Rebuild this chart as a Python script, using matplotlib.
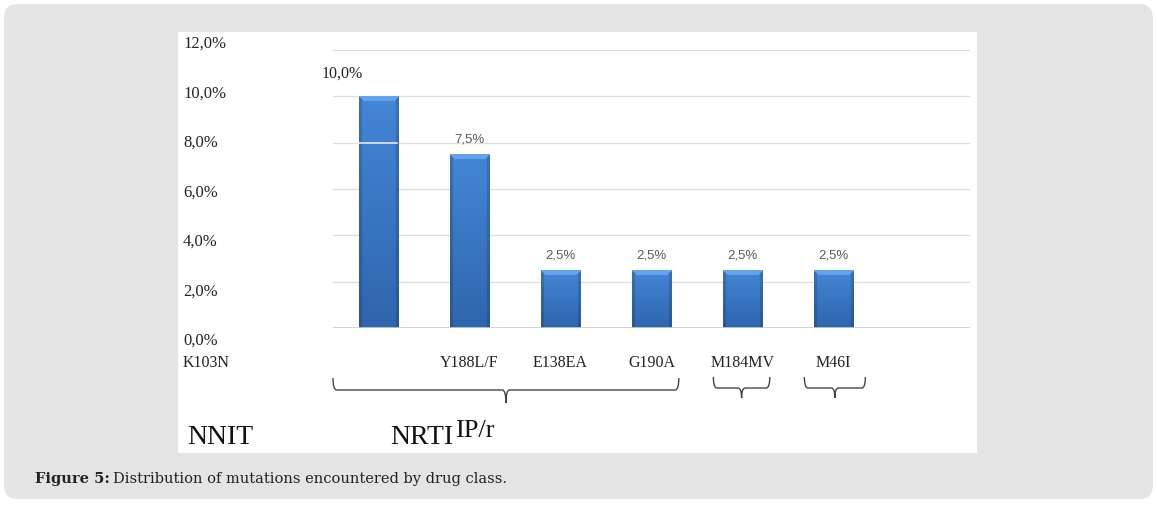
import numpy as np
import matplotlib.pyplot as plt
from matplotlib.patches import FancyBboxPatch, Rectangle, PathPatch
from matplotlib.path import Path
from matplotlib.colors import to_rgb
import matplotlib.transforms as mtransforms

# data
mutations = ['K103N', 'Y188L/F', 'E138EA', 'G190A', 'M184MV', 'M46I']
values = [10.0, 7.5, 2.5, 2.5, 2.5, 2.5]
yticks = [0, 2, 4, 6, 8, 10, 12]
ytick_labels = ['0,0%', '2,0%', '4,0%', '6,0%', '8,0%', '10,0%', '12,0%']
# drug class groups: (label, brace start, brace end) in category units
groups = [('NNIT', None, None), ('NRTI', -0.5, 3.3), ('IP/r', 3.68, 4.30), ('', 4.68, 5.35)]

W, H = 1157, 505
fig = plt.figure(figsize=(W / 100, H / 100), dpi=100)
fig.patch.set_facecolor('white')

def fx(px):
    return px / W

def fy(py):
    return 1 - py / H

# gray frame and white panel (behind the axes)
fig.patches.append(FancyBboxPatch((fx(4), fy(499)), fx(1149), (495) / H,
                                  boxstyle='round,pad=0,rounding_size=0.012',
                                  transform=fig.transFigure, facecolor='#e4e4e4',
                                  edgecolor='none', mutation_aspect=W / H, zorder=-2))
fig.patches.append(Rectangle((fx(178), fy(453)), fx(799), 421 / H,
                             transform=fig.transFigure, facecolor='white',
                             edgecolor='none', zorder=-1))

ax = fig.add_axes([fx(333), fy(328), fx(637), 278 / H])
ax.set_facecolor('none')
x = np.arange(len(mutations))
for t in yticks[1:]:
    ax.axhline(t, color='#dedede', lw=0.9, zorder=0)
ax.axhline(0, color='#cccccc', lw=1.2, zorder=3)

bars = ax.bar(x, values, width=0.43, color='#3a74c2', edgecolor='#2d5c9c', lw=0.6, zorder=2)


def bevel_image(hpx, wpx=39, top=5, side=3):
    face_top, face_bot = np.array(to_rgb('#4386d6')), np.array(to_rgb('#2f66ad'))
    img = np.zeros((hpx, wpx, 3))
    for r in range(hpx):
        f = r / max(hpx - 1, 1)
        img[r, :] = face_top * (1 - f) + face_bot * f
    for r in range(hpx):
        for c in range(wpx):
            d_side = min(c, wpx - 1 - c)
            if r < top and d_side >= r:
                img[r, c] = to_rgb('#62a3ec') * np.ones(3)
            elif d_side < side and r >= d_side:
                img[r, c] = img[r, c] * 0.85
    return img


for b in bars:
    x0, w, h = b.get_x(), b.get_width(), b.get_height()
    img = bevel_image(int(round(h * 23.17)))
    im = ax.imshow(img, extent=[x0, x0 + w, 0, h], aspect='auto', zorder=2.1,
                   interpolation='bilinear')
    im.set_clip_path(b)
ax.set_xlim(-0.5, 6.5)
ax.set_ylim(0, 12)
ax.axhline(8, xmin=0.04, xmax=0.10, color='#e8e8e8', lw=1.2, zorder=2.5)

for i, v in enumerate(values):
    lab = ('%.1f%%' % v).replace('.', ',')
    if i == 0:
        ax.annotate(lab, (x[i], v), xytext=(-26, 16), textcoords='offset points',
                    ha='center', va='center', fontsize=11.5, family='Liberation Serif',
                    color='#222222')
    else:
        ax.annotate(lab, (x[i], v), xytext=(0, 10.5), textcoords='offset points',
                    ha='center', va='center', fontsize=9.5, family='Liberation Sans',
                    color='#595959')

for s in ax.spines.values():
    s.set_visible(False)
ax.set_xticks([])
ax.set_yticks([])

# y labels column (offset from the gridlines as in the original)
axl = fig.add_axes([fx(183), fy(341), fx(60), 297 / H])
axl.set_ylim(0, 12)
axl.set_xlim(0, 1)
axl.axis('off')
for t, lab in zip(yticks, ytick_labels):
    axl.text(0, t, lab, ha='left', va='center', fontsize=12, family='Liberation Serif',
             color='#222222')

# category labels
trans = mtransforms.blended_transform_factory(ax.transData, ax.transAxes)
ylab = (328 - 363) / 278
for i, m in enumerate(mutations):
    if i == 0:
        fig.text(fx(183), fy(363), m, ha='left', va='center', fontsize=11.5,
                 family='Liberation Serif', color='#222222')
    else:
        ax.text(x[i], ylab, m, transform=trans, ha='center', va='center', fontsize=11.5,
                family='Liberation Serif', color='#222222')

# braces
def brace(x0, x1, top, line, tip):
    xm = (x0 + x1) / 2
    r = 0.04
    verts = [(x0, top), (x0, line), (x0 + r, line),
             (xm - r, line), (xm, line), (xm, tip),
             (xm, tip), (xm, line), (xm + r, line),
             (x1 - r, line), (x1, line), (x1, top)]
    codes = [Path.MOVETO, Path.CURVE3, Path.CURVE3,
             Path.LINETO, Path.CURVE3, Path.CURVE3,
             Path.MOVETO, Path.CURVE3, Path.CURVE3,
             Path.LINETO, Path.CURVE3, Path.CURVE3]
    yy = lambda p: (328 - p) / 278
    verts = [(vx, yy(vy)) for vx, vy in verts]
    ax.add_patch(PathPatch(Path(verts, codes), transform=trans, fill=False,
                           edgecolor='#444444', lw=1.0, clip_on=False))

for name, a, b in groups:
    if a is None:
        continue
    if b - a > 1:
        brace(a, b, 378, 390, 403)
    else:
        brace(a, b, 377, 388, 398)

# group labels
fig.text(fx(187), fy(438), groups[0][0], ha='left', va='center', fontsize=20,
         family='Liberation Serif', color='#111111')
fig.text(fx(390), fy(438), groups[1][0], ha='left', va='center', fontsize=20,
         family='Liberation Serif', color='#111111')
fig.text(fx(455), fy(431), groups[2][0], ha='left', va='center', fontsize=19,
         family='Liberation Serif', color='#111111')

# caption
t1 = fig.text(fx(35), fy(479), 'Figure 5:', ha='left', va='center', fontsize=10.5,
              family='DejaVu Serif', weight='bold', color='#222222')
r = fig.canvas.get_renderer()
bb = t1.get_window_extent(r)
fig.text(bb.x1 / W + fx(3), fy(479), 'Distribution of mutations encountered by drug class.',
         ha='left', va='center', fontsize=10.5, family='DejaVu Serif', color='#222222')

fig.savefig('out.png', dpi=100)
